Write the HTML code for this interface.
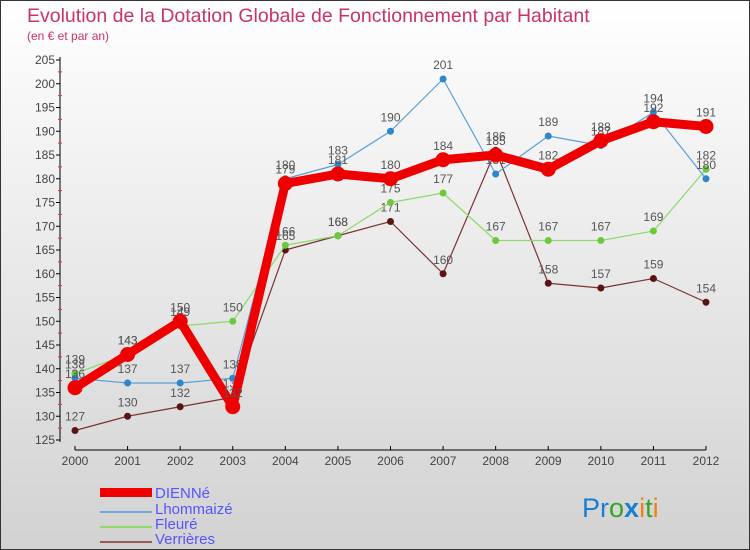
<!DOCTYPE html>
<html><head><meta charset="utf-8"><style>
body{margin:0;width:750px;height:550px;overflow:hidden}
svg{display:block;font-family:"Liberation Sans","DejaVu Sans",sans-serif}
</style></head><body>
<svg id="c" width="750" height="550" xmlns="http://www.w3.org/2000/svg">
<defs><linearGradient id="bg" x1="0" y1="0" x2="0" y2="1"><stop offset="0" stop-color="#ffffff"/><stop offset="1" stop-color="#d2d2d2"/></linearGradient></defs>
<rect x="0.5" y="0.5" width="749" height="549" fill="url(#bg)" stroke="#333"/>
<text x="27" y="22" font-size="19.5" fill="#c8336a">Evolution de la Dotation Globale de Fonctionnement par Habitant</text>
<text x="27" y="40" font-size="12" fill="#c8336a">(en € et par an)</text>
<g id="axes"></g><g id="plot"></g>
<g font-size="15" fill="#5555ff">
<rect x="100" y="488" width="52" height="9" fill="#ee0000"/>
<text x="155" y="498">DIENNé</text>
<rect x="100" y="511" width="52" height="2" fill="#6fa8d6"/>
<text x="155" y="514">Lhommaizé</text>
<rect x="100" y="526" width="52" height="2" fill="#8fd86a"/>
<text x="155" y="529">Fleuré</text>
<rect x="100" y="541" width="52" height="2" fill="#9b5a5a"/>
<text x="155" y="544">Verrières</text>
</g>
<g font-size="27">
<text x="582" y="517"><tspan fill="#1a7fd0">Pr</tspan><tspan fill="#3aa02a">o</tspan><tspan fill="#1a7fd0" font-weight="bold">x</tspan><tspan fill="#f08010">i</tspan><tspan fill="#3aa02a">t</tspan><tspan fill="#f08010">i</tspan></text>
</g>
</svg>
<script>
const years=[2000,2001,2002,2003,2004,2005,2006,2007,2008,2009,2010,2011,2012];
const dienne=[136,143,150,132,179,181,180,184,185,182,188,192,191];
const lhommaize=[138,137,137,138,180,183,190,201,181,189,187,194,180];
const fleure=[139,143,149,150,166,168,175,177,167,167,167,169,182];
const verrieres=[127,130,132,134,165,168,171,160,186,158,157,159,154];
const yTicks=[125,130,135,140,145,150,155,160,165,170,175,180,185,190,195,200,205];
const NS="http://www.w3.org/2000/svg";
const X=i=>75+i*(706-75)/(years.length-1);
const Y=v=>440-(v-125)*4.75;
function mk(t,a,p){const e=document.createElementNS(NS,t);for(const k in a)e.setAttribute(k,a[k]);p.appendChild(e);return e;}
const ax=document.getElementById('axes'),pl=document.getElementById('plot');
let e=mk('line',{x1:60,y1:57,x2:60,y2:442,stroke:'#000'},ax);


e=mk('line',{x1:75,y1:450,x2:706,y2:450,stroke:'#000'},ax);


yTicks.forEach(v=>{
 mk('line',{x1:56,x2:60,y1:Y(v),y2:Y(v),stroke:'#000'},ax);
 if(v<205) mk('line',{x1:58,x2:62,y1:Y(v+2.5),y2:Y(v+2.5),stroke:'#e03030'},ax);
 const t=mk('text',{x:55,y:Y(v)+4,'font-size':12,'text-anchor':'end',fill:'#444'},ax);t.textContent=v;
 
 
});
years.forEach((y,i)=>{
 mk('line',{x1:X(i),x2:X(i),y1:446,y2:450,stroke:'#000'},ax);
 const t=mk('text',{x:X(i),y:465,'font-size':12,'text-anchor':'middle',fill:'#444'},ax);t.textContent=y;
 
 
});
const series=[
 {d:verrieres,c:'#7a3333',dot:'#5a1414',w:1.2,r:3.5,n:'verrieres'},
 {d:fleure,c:'#8fd86a',dot:'#6cc83c',w:1.2,r:3.5,n:'fleure'},
 {d:lhommaize,c:'#5aa0d8',dot:'#2f86c8',w:1.2,r:3.5,n:'lhommaize'},
 {d:dienne,c:'#ee0000',dot:'#ee0000',w:9,r:7.5,n:'dienne'}];
series.forEach(s=>{
 const p=mk('polyline',{points:s.d.map((v,i)=>X(i)+','+Y(v)).join(' '),fill:'none',stroke:s.c,'stroke-width':s.w,'stroke-linejoin':'round'},pl);
 
 
 s.d.forEach((v,i)=>{
  const c=mk('circle',{cx:X(i),cy:Y(v),r:s.r,fill:s.dot},pl);
  
  
  const t=mk('text',{x:X(i),y:Y(v)-10,'font-size':12,'text-anchor':'middle',fill:'#555'},pl);t.textContent=v;
  
  
 });
});
</script>
</body></html>
